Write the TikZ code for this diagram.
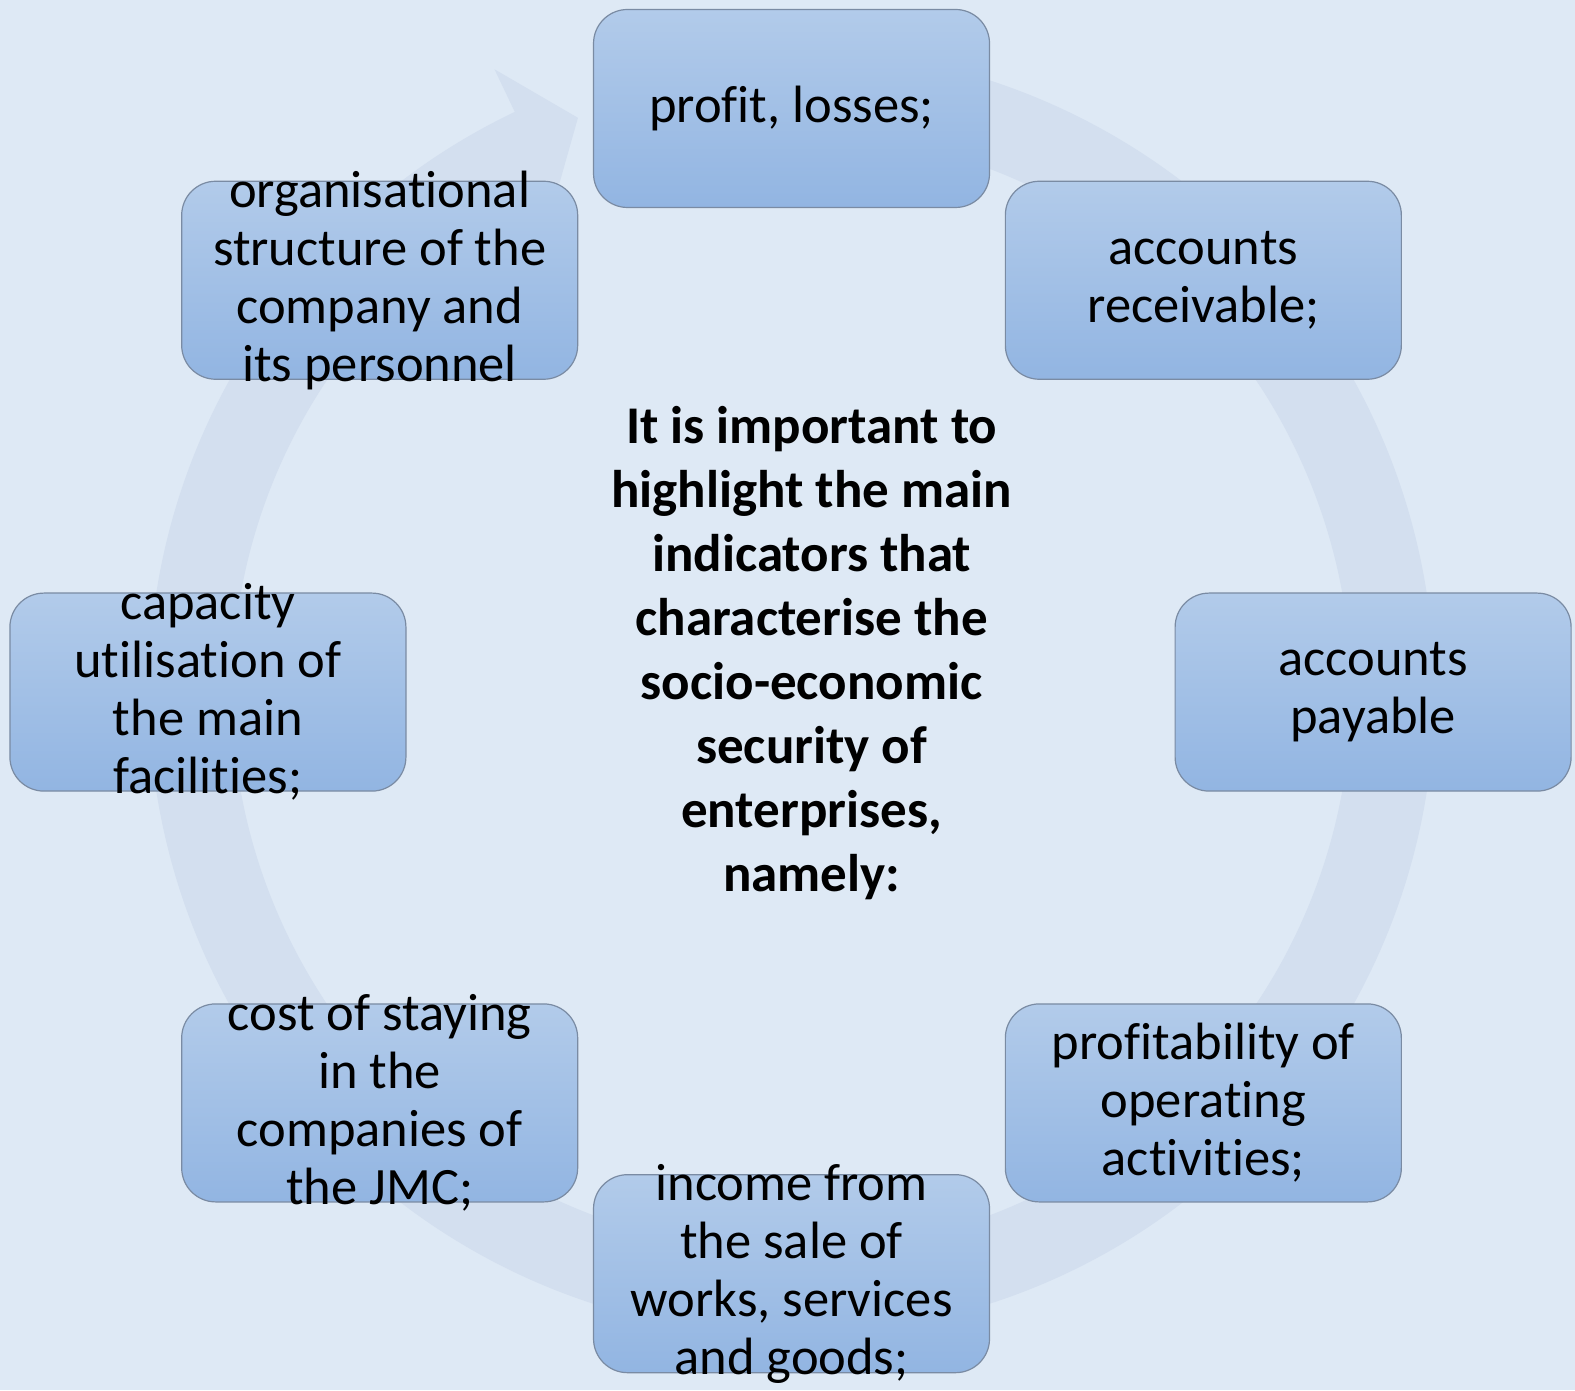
\documentclass[tikz,border=0pt]{standalone}
\usepackage{fontspec}
\setmainfont{Carlito}[Ligatures=NoCommon]
\definecolor{bgblue}{HTML}{DEE9F5}
\definecolor{ringblue}{HTML}{D3DFEF}
\definecolor{boxtop}{HTML}{B2CBEA}
\definecolor{boxbot}{HTML}{92B5E2}
\definecolor{boxline}{HTML}{7A8BA3}
\tikzset{
  indbox/.style={rectangle,rounded corners=34pt,draw=boxline,line width=1.2pt,
    top color=boxtop,bottom color=boxbot,minimum width=396pt,minimum height=198pt,inner sep=0pt},
  indtext/.style={align=center,font=\fontsize{52.5}{58}\selectfont,inner sep=0pt},
  maintext/.style={align=center,font=\fontsize{53}{64}\selectfont\bfseries,inner sep=0pt}
}
\begin{document}
\begin{tikzpicture}[x=1.0045pt,y=-1.0045pt]
\fill[bgblue] (0,0) rectangle (1568,1384);
\useasboundingbox (0,0) rectangle (1568,1384);
\coordinate (C) at (788,689);

% circular arrow behind the boxes
\begin{scope}[shift={(C)},y=1.0045pt]
  \fill[ringblue] (100:640) arc[start angle=100,end angle=-244.5,radius=640]
    -- (115.5:687) -- (110.4:610) -- (114.5:557)
    arc[start angle=-245.5,end angle=100,radius=557] -- cycle;
\end{scope}

% indicators
\node[indbox] (profit) at (788,108) {};
\node[indbox] (recv)   at (1198,279) {};
\node[indbox] (pay)    at (1367,689) {};
\node[indbox] (oper)   at (1198,1098) {};
\node[indbox] (income) at (788,1268) {};
\node[indbox] (cost)   at (378,1098) {};
\node[indbox] (capac)  at (207,689) {};
\node[indbox] (org)    at (378,279) {};

\node[indtext] (profit-t) at (profit) {profit, losses;};
\node[indtext] (recv-t)   at (recv)   {accounts\\receivable;};
\node[indtext] (pay-t)    at (pay)    {accounts\\payable};
\node[indtext] (oper-t)   at (oper)   {profitability of\\operating\\activities;};
\node[indtext] (income-t) at (income) {income from\\the sale of\\works, services\\and goods;};
\node[indtext] (cost-t)   at (cost)   {cost of staying\\in the\\companies of\\the JMC;};
\node[indtext] (capac-t)  at (capac)  {capacity\\utilisation of\\the main\\facilities;};
\node[indtext] (org-t)    at (org)    {organisational\\structure of the\\company and\\its personnel};

\node[maintext] (main) at (808,650) {It is important to\\highlight the main\\indicators that\\characterise the\\socio-economic\\security of\\enterprises,\\namely:};
\end{tikzpicture}
\end{document}
